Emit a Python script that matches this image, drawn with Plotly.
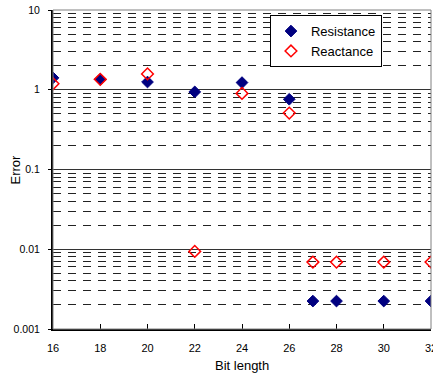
import plotly.graph_objects as go

bit_lengths = [16, 18, 20, 22, 24, 26, 27, 28, 30, 32]
resistance = [1.41, 1.35, 1.25, 0.94, 1.23, 0.76, 0.00224, 0.00224, 0.00224, 0.00224]
reactance = [1.19, 1.35, 1.58, 0.0094, 0.90, 0.51, 0.0069, 0.0069, 0.0069, 0.0069]
y_tick_vals = [0.001, 0.01, 0.1, 1, 10]
y_tick_text = ["0.001", "0.01", "0.1", "1", "10"]
x_tick_vals = [16, 18, 20, 22, 24, 26, 28, 30, 32]

FONT = "Liberation Sans, Arial, sans-serif"

fig = go.Figure()
fig.add_trace(go.Scatter(
    x=bit_lengths, y=resistance, mode="markers", name="Resistance",
    marker=dict(symbol="diamond", size=9, color="#000080",
                line=dict(color="#000080", width=1)),
))
fig.add_trace(go.Scatter(
    x=bit_lengths, y=reactance, mode="markers", name="Reactance",
    marker=dict(symbol="diamond-open", size=9, color="#ff0000",
                line=dict(color="#ff0000", width=1.5)),
))

fig.update_layout(
    width=433, height=378,
    margin=dict(l=53, r=2, t=10, b=49),
    paper_bgcolor="white", plot_bgcolor="white",
    font=dict(family=FONT, size=11, color="black"),
    showlegend=True,
    legend=dict(x=0.574, y=0.984, xanchor="left", yanchor="top",
                bgcolor="white", bordercolor="black", borderwidth=1,
                font=dict(size=13, family=FONT), itemwidth=30,
                tracegroupgap=0),
    xaxis=dict(
        range=[16, 32], tickvals=x_tick_vals, ticks="inside", ticklen=5,
        tickcolor="black", showgrid=False, zeroline=False,
        showline=True, linecolor="black", linewidth=2,
        ticklabelstandoff=8, ticklabeloverflow="allow", automargin=False,
        tickfont=dict(size=11),
    ),
    yaxis=dict(
        type="log", range=[-3, 1], tickvals=y_tick_vals, ticktext=y_tick_text,
        ticks="outside", ticklen=3, tickcolor="black",
        ticklabelstandoff=6, automargin=False,
        showgrid=True, gridcolor="#333333", gridwidth=1,
        minor=dict(dtick="D1", showgrid=True, gridcolor="#222222",
                   griddash="8px,7px", gridwidth=1, ticks=""),
        zeroline=False, showline=True, linecolor="black", linewidth=2,
        tickfont=dict(size=10.5),
    ),
    annotations=[
        dict(text="Bit length", xref="paper", yref="paper", x=0.5, y=0,
             xanchor="center", yanchor="middle", yshift=-36, showarrow=False,
             font=dict(size=13)),
        dict(text="Error", xref="paper", yref="paper", x=0, y=0.5,
             xanchor="center", yanchor="middle", xshift=-38, textangle=-90,
             showarrow=False, font=dict(size=13)),
    ],
    shapes=[dict(type="rect", xref="paper", yref="paper", x0=0, x1=1, y0=0, y1=1,
                 line=dict(color="#808080", width=1), layer="above")],
)

fig.write_html("out.html")
